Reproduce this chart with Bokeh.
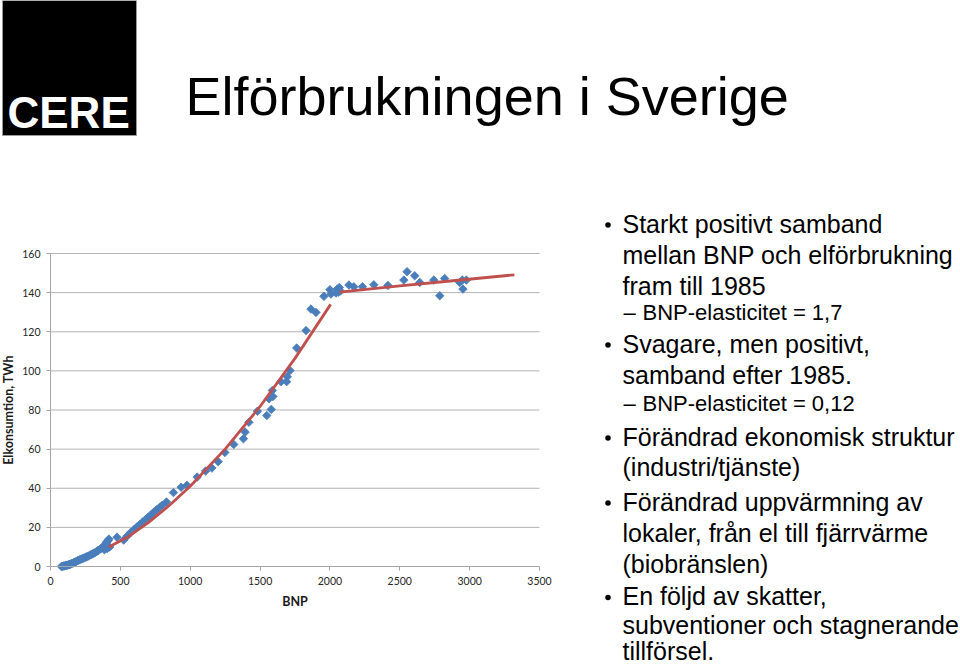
from bokeh.plotting import figure
from bokeh.models import FixedTicker, Range1d, LinearAxis
from bokeh.core.properties import value
from bokeh.embed import file_html
from bokeh.resources import INLINE
import math

# ---------------- data ----------------
bnp = [78, 85, 92, 98, 104, 110, 116, 122, 128, 134, 140, 146, 152, 160, 168, 176,
       184, 192, 200, 208, 216, 224, 232, 240, 250, 260, 270, 280, 290, 300, 310,
       320, 330, 340, 350, 360, 370, 378, 386, 394, 400, 406, 412, 418, 424,
       476, 524, 548, 575, 600, 620, 640, 660, 680, 700, 720, 740, 760, 780, 800,
       830, 880, 935, 976, 1050, 1110, 1155, 1200, 1248, 1312, 1381, 1393, 1420,
       1481, 1548, 1580, 1564, 1592, 1588, 1650, 1690, 1695, 1714, 1762, 1829,
       1864, 1900, 1957, 2000, 2007, 2043, 2052, 2060, 2067, 2075,
       2136, 2171, 2233, 2314, 2415, 2529, 2552, 2607, 2643, 2743, 2786, 2821,
       2929, 2948, 2952, 2976]
elkonsumtion = [0.0, 0.1, 0.2, 0.3, 0.4, 0.5, 0.6, 0.7, 0.9, 1.0, 1.1, 1.3, 1.5, 1.7,
                2.0, 2.3, 2.6, 2.9, 3.2, 3.4, 3.6, 3.9, 4.1, 4.4, 4.7, 5.0, 5.3, 5.7,
                6.0, 6.4, 6.8, 7.2, 7.6, 8.1, 8.6, 9.1, 9.6, 10.3, 8.6, 11.2, 12.4,
                9.2, 13.2, 14.0, 10.0,
                15.0, 13.5, 15.5, 17.5, 19.0, 20.3, 21.5, 22.8, 24.0, 25.3, 26.5,
                27.8, 29.0, 30.2, 31.3, 33.0, 37.8, 40.5, 41.5, 45.7, 48.8, 50.3,
                53.6, 58.3, 62.4, 65.3, 68.7, 73.7, 79.4, 77.2, 80.3, 85.7, 86.9,
                90.0, 94.5, 94.5, 97.0, 100.2, 111.7, 120.6, 131.6, 129.9, 138.1,
                141.5, 139.3, 139.8, 141.8, 140.2, 142.6, 140.8,
                143.9, 143.0, 143.0, 144.0, 143.7, 146.4, 150.7, 148.6, 145.2,
                146.4, 138.4, 147.2, 145.2, 146.4, 141.8, 146.4]

trend_fore_bnp = [417, 550, 700, 850, 1000, 1250, 1500, 1750, 2005]
trend_fore_el = [10.0, 14.9, 22.4, 31.2, 41.0, 60.0, 81.8, 106.4, 134.0]
trend_efter_bnp = [2070, 2500, 2900, 3320]
trend_efter_el = [140.3, 143.4, 146.2, 149.1]

x_ticks = [0, 500, 1000, 1500, 2000, 2500, 3000, 3500]
y_ticks = [0, 20, 40, 60, 80, 100, 120, 140, 160]

title_text = "Elförbrukningen i Sverige"
logo_text = "CERE"
x_label = "BNP"
y_label = "Elkonsumtion, TWh"

# bullet lines: kind (b = bullet, c = continuation, s = sub-point), text
bullet_kinds = ["b", "c", "c", "s", "b", "c", "s", "b", "c", "b", "c", "c", "b", "c", "c"]
bullet_texts = [
    "Starkt positivt samband",
    "mellan BNP och elförbrukning",
    "fram till 1985",
    "BNP-elasticitet = 1,7",
    "Svagare, men positivt,",
    "samband efter 1985.",
    "BNP-elasticitet = 0,12",
    "Förändrad ekonomisk struktur",
    "(industri/tjänste)",
    "Förändrad uppvärmning av",
    "lokaler, från el till fjärrvärme",
    "(biobränslen)",
    "En följd av skatter,",
    "subventioner och stagnerande",
    "tillförsel.",
]

# ---------------- page layout (pixels) ----------------
W, H = 960, 665
PLOT_L, PLOT_R, PLOT_T, PLOT_B = 50, 539, 253, 566   # chart plotting area on the page
XMIN, XMAX = x_ticks[0], x_ticks[-1]
YMIN, YMAX = y_ticks[0], y_ticks[-1]
bullet_baselines = [232, 263, 294, 320, 352, 383, 411, 445, 475.5, 510, 541, 572,
                    604.5, 633.5, 659.5]
BASE_K = 0.36   # renderer places "alphabetic" text this many em below y

FONT = "Liberation Sans"

# data ranges chosen so the whole canvas is the frame and the chart area lands
# at the plotting area above
xs = (XMAX - XMIN) / (PLOT_R - PLOT_L)
ys = (YMAX - YMIN) / (PLOT_B - PLOT_T)
x_range = Range1d(XMIN - PLOT_L * xs, XMAX + (W - PLOT_R) * xs)
y_range = Range1d(YMIN - (H - PLOT_B) * ys, YMAX + PLOT_T * ys)

p = figure(width=W, height=H, x_range=x_range, y_range=y_range,
           x_axis_type=None, y_axis_type=None, title=None,
           output_backend="svg", toolbar_location=None,
           min_border=0, min_border_left=0, min_border_right=0,
           min_border_top=0, min_border_bottom=0)
p.outline_line_color = None
p.background_fill_color = "white"
p.border_fill_color = "white"
p.grid.visible = False
p.extra_x_ranges = {"page": Range1d(0, W)}
p.extra_y_ranges = {"page": Range1d(H, 0)}

# ---------------- axes ----------------
tick_font = "Lato"
xaxis = LinearAxis(fixed_location=YMIN, bounds=(XMIN, XMAX), ticker=FixedTicker(ticks=x_ticks),
                   axis_label=x_label, axis_label_standoff=6)
yaxis = LinearAxis(fixed_location=XMIN, bounds=(YMIN, YMAX), ticker=FixedTicker(ticks=y_ticks),
                   axis_label=y_label, axis_label_standoff=3)
for ax in (xaxis, yaxis):
    ax.minor_tick_line_color = None
    ax.major_tick_in = 0
    ax.major_tick_out = 4
    ax.major_tick_line_color = "#a6a6a6"
    ax.axis_line_color = "#a6a6a6"
    ax.major_label_text_font = tick_font
    ax.major_label_text_font_size = "10.5px"
    ax.major_label_text_color = "#262626"
    ax.major_label_standoff = 6
    ax.axis_label_text_font = tick_font
    ax.axis_label_text_font_style = "bold"
    ax.axis_label_text_font_size = "12.5px"
    ax.axis_label_text_color = "#1a1a1a"
p.add_layout(xaxis, "below")
p.add_layout(yaxis, "left")

# horizontal gridlines at the y ticks, across the chart width
grid_y = y_ticks[1:]
p.segment(x0=[XMIN] * len(grid_y), x1=[XMAX] * len(grid_y), y0=grid_y, y1=grid_y,
          line_color="#b3b3b3", line_width=1)

# ---------------- data marks ----------------
p.scatter(bnp, elkonsumtion, marker="square", angle=math.pi / 4, size=6,
          fill_color="#4a7ebb", line_color="#4a7ebb", line_width=0.8)
p.line(trend_fore_bnp, trend_fore_el, line_color="#c0504d", line_width=2.8)
p.line(trend_efter_bnp, trend_efter_el, line_color="#c0504d", line_width=2.8)


def tb(base, size):
    return base - BASE_K * size


# ---------------- logo + title ----------------
p.quad(left=[2], right=[136], top=[0], bottom=[135], x_range_name="page", y_range_name="page",
       fill_color="black", line_color="#9a9a9a", line_width=1)
p.text(x=[7], y=[tb(128, 44)], text=[logo_text], x_range_name="page", y_range_name="page",
       text_font=value(FONT), text_font_style="bold", text_font_size="44px",
       text_color="white", text_baseline="alphabetic", text_align="left")
p.text(x=[185], y=[tb(115, 54)], text=[title_text], x_range_name="page", y_range_name="page",
       text_font=value(FONT), text_font_size="54px", text_color="black",
       text_baseline="alphabetic", text_align="left")

# ---------------- bullet text ----------------
main_x, main_y, main_t = [], [], []
sub_x, sub_y, sub_t = [], [], []
dot_x, dot_y = [], []
dash_x, dash_y = [], []
for kind, txt, base in zip(bullet_kinds, bullet_texts, bullet_baselines):
    if kind == "s":
        dash_x.append(623)
        dash_y.append(tb(base, 22))
        sub_x.append(642)
        sub_y.append(tb(base, 22))
        sub_t.append(txt)
    else:
        if kind == "b":
            dot_x.append(607.5)
            dot_y.append(base - 7.5)
        main_x.append(622)
        main_y.append(tb(base, 25))
        main_t.append(txt)

p.text(x=main_x, y=main_y, text=main_t, x_range_name="page", y_range_name="page",
       text_font=value(FONT), text_font_size="25px",
       text_color="black", text_baseline="alphabetic", text_align="left")
p.text(x=sub_x, y=sub_y, text=sub_t, x_range_name="page", y_range_name="page",
       text_font=value(FONT), text_font_size="22px",
       text_color="black", text_baseline="alphabetic", text_align="left")
p.text(x=dash_x, y=dash_y, text=["–"] * len(dash_x), x_range_name="page", y_range_name="page",
       text_font=value(FONT), text_font_size="22px", text_color="black",
       text_baseline="alphabetic", text_align="left")
p.scatter(dot_x, dot_y, x_range_name="page", y_range_name="page", marker="circle",
          size=5.5, fill_color="black", line_color=None)

open("out.html", "w").write(file_html(p, INLINE))
